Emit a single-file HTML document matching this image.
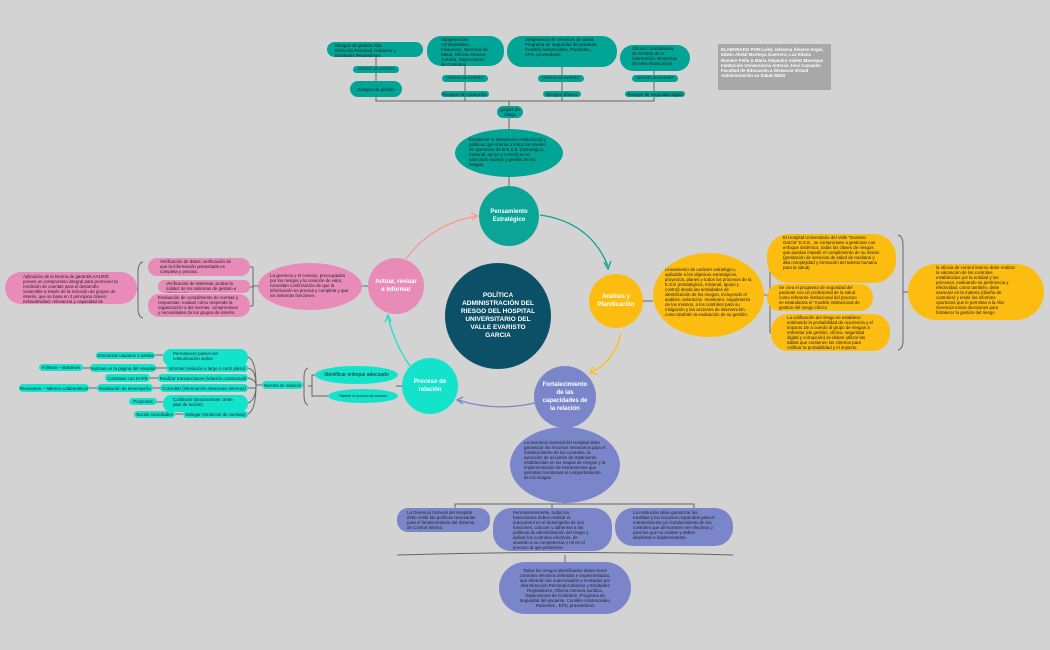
<!DOCTYPE html>
<html><head><meta charset="utf-8"><style>
html,body{margin:0;padding:0}
body{width:1050px;height:650px;background:#d3d3d3;position:relative;overflow:hidden;font-family:"Liberation Sans",sans-serif}
.b{position:absolute;box-sizing:border-box;font-size:4.4px;line-height:5px;color:#222;padding:2px 6px;overflow:hidden}
.t{background:#00a596}.y{background:#fdbd10}.p{background:#e98bb9}.c{background:#14e3cc}.v{background:#7a86c9}
.r{border-radius:8px}.e{border-radius:50%}
.ctr{display:flex;align-items:center;justify-content:center;text-align:center}
.circ{position:absolute;border-radius:50%;display:flex;align-items:center;justify-content:center;text-align:center;color:#fff;font-weight:bold;font-size:6px;line-height:8px}
svg{position:absolute;left:0;top:0}
</style></head><body>
<svg width="1050" height="650">
<g stroke="#666" stroke-width="1" fill="none">
<path d="M376 97 V101 H654 V97 M465 97V101 M562 97V101 M509 101V106 M509 118V129 M509 177V186"/>
<path d="M376 56V66 M376 73V81 M465 66V75 M465 82V91 M562 67V75 M562 82V91 M654 71V75 M654 82V91"/>
<path d="M643 301H653 M764 295H770 M770 259V333 M770 259H775 M770 297H767 M770 333H773"/>
<path d="M898 235 Q903 236 903 245 V340 Q903 349 898 350 M903 292H908"/>
<path d="M368 286H362 M258 286H253 M253 267V306 M253 267H250 M253 287H250 M253 306H250"/>
<path d="M143 262 Q138 263 138 272 V308 Q138 317 143 318 M138 289H137"/>
<path d="M402 386H396 M315 375H312 V396 H328 M312 386H308"/>
<path d="M308 368 Q304 369 304 378 V395 Q304 404 308 405 M304 385H303"/>
<path d="M262 385H256 M248 357 Q256 360 256 385 M248 368 Q256 370 256 385 M248 378 Q256 380 256 385 M248 388 H256 M248 403 Q256 400 256 385 M248 414 Q256 410 256 385"/>
<path d="M155 355H163 M156 368H166 M83 368H90 M150 378H158 M153 388H160 M89 388H97 M157 402H163 M175 414H183"/>
<path d="M565 428V418 M455 508V504H694V508 M552 504V508 M565 503V504"/>
<path d="M397 555 Q565 550 733 555 M565 555V562"/>
</g>
<path d="M540 215 Q590 222 608 266" stroke="#0aa596" stroke-width="1.3" fill="none"/>
<path d="M604 262 L608 269 L611 261" stroke="#0aa596" stroke-width="1.3" fill="none"/>
<path d="M621 333 Q615 360 592 372" stroke="#fdbd10" stroke-width="1.3" fill="none"/>
<path d="M593 367 L590 373 L597 374" stroke="#fdbd10" stroke-width="1.3" fill="none"/>
<path d="M535 403 Q495 412 458 400" stroke="#7a86c9" stroke-width="1.3" fill="none"/>
<path d="M463 397 L457 400 L463 404" stroke="#7a86c9" stroke-width="1.3" fill="none"/>
<path d="M410 366 Q395 345 388 317" stroke="#14e3cc" stroke-width="1.3" fill="none"/>
<path d="M385 322 L388 315 L391 322" stroke="#14e3cc" stroke-width="1.3" fill="none"/>
<path d="M406 259 Q430 225 476 216" stroke="#f59a8e" stroke-width="1.3" fill="none"/>
<path d="M471 213 L478 216 L472 220" stroke="#f59a8e" stroke-width="1.3" fill="none"/>
</svg>

<div class="b t r" style="left:327px;top:42px;width:96px;height:15px;padding:1px 8px">Riesgos de gestión:Alta Dirección,Personal, Gobierno y Entidades Reguladoras</div>
<div class="b t r ctr" style="left:353px;top:66px;width:46px;height:7px;padding:0;font-size:3.5px">GRUPOS DE INTERES</div>
<div class="b t r ctr" style="left:350px;top:81px;width:52px;height:16px;padding:0">Riesgos de gestión</div>
<div class="b t" style="left:427px;top:36px;width:77px;height:30px;border-radius:14px;padding:1px 14px">Subgerencias Administrativa, Financiera, Servicios de Salud, Oficina Asesora Jurídica, Supervisores de Contratos</div>
<div class="b t r ctr" style="left:442px;top:75px;width:46px;height:7px;padding:0;font-size:3.5px">GRUPOS DE INTERES</div>
<div class="b t r ctr" style="left:441px;top:91px;width:48px;height:6px;padding:0">Riesgos de corrupción</div>
<div class="b t" style="left:507px;top:36px;width:110px;height:31px;border-radius:15px;padding:1px 18px">Subgerencia de Servicios de Salud, Programa de Seguridad del paciente, Comités Asistenciales, Pacientes , EPS, proveedores</div>
<div class="b t r ctr" style="left:538px;top:75px;width:46px;height:7px;padding:0;font-size:3.5px">GRUPOS DE INTERES</div>
<div class="b t r ctr" style="left:543px;top:91px;width:38px;height:6px;padding:0">Riesgos clínicos</div>
<div class="b t" style="left:620px;top:45px;width:70px;height:26px;border-radius:13px;padding:1px 12px">Oficina Coordinadora de Gestión de la Información, Empresas de telecomunicación</div>
<div class="b t r ctr" style="left:632px;top:75px;width:46px;height:7px;padding:0;font-size:3.5px">GRUPOS DE INTERES</div>
<div class="b t r ctr" style="left:625px;top:91px;width:60px;height:6px;padding:0">Riesgos de seguridad digital</div>
<div class="b t r ctr" style="left:497px;top:106px;width:26px;height:12px;padding:0">grupos de riesgo</div>
<div class="b" style="left:718px;top:44px;width:113px;height:46px;background:#a8a8a8;color:#fff;font-weight:bold;padding:3px 3px;line-height:5.3px">ELABORADO POR:Leidy Johanna Álvarez Angel, Edwin Abdul Montoya Guerrero, Luz Eliana Romero Peña &amp; María Alejandra Valdez Manrique Institución Universitaria Antonio José Camacho Facultad de Educación a Distancia Virtual Administración en Salud-SB4S</div>
<div class="b t e" style="left:455px;top:129px;width:108px;height:48px;padding:8px 14px">Establecer el lineamiento institucional y políticas que orienta a todos los niveles de operación de la E.S.E. (estratégico, misional, apoyo y control) en el adecuado manejo y gestión de los riesgos.</div>

<div class="circ" style="left:445px;top:263px;width:106px;height:106px;background:#0b5066;font-size:6.5px;line-height:8px">POLÍTICA<br>ADMINISTRACIÓN DEL<br>RIESGO DEL HOSPITAL<br>UNIVERSITARIO DEL<br>VALLE EVARISTO<br>GARCIA</div>
<div class="circ" style="left:479px;top:186px;width:60px;height:60px;background:#0aa596">Pensamiento<br>Estratégico</div>
<div class="circ" style="left:589px;top:274px;width:54px;height:54px;background:#fdbd10">Análisis y<br>Planificación</div>
<div class="circ" style="left:534px;top:366px;width:62px;height:62px;background:#7a86c9">Fortalecimiento<br>de las<br>capacidades de<br>la relación</div>
<div class="circ" style="left:402px;top:358px;width:56px;height:56px;background:#14e3cc">Proceso de<br>relación</div>
<div class="circ" style="left:368px;top:258px;width:56px;height:56px;background:#e98bb9">Actuar, revisar<br>e informar</div>

<div class="b y e" style="left:653px;top:253px;width:111px;height:84px;padding:14px 12px">Lineamiento de carácter estratégico, aplicable a los objetivos estratégicos, proyectos, planes y todos los procesos de la E.S.E (estratégicos, misional, apoyo y control) desde las actividades de identificación de los riesgos, incluyendo el análisis, valoración, monitoreo, seguimiento de los mismos, a los controles para su mitigación y las acciones de intervención, como también la evaluación de su gestión.</div>
<div class="b y" style="left:767px;top:234px;width:129px;height:49px;border-radius:22px;padding:1px 16px">El Hospital Universitario del Valle "Evaristo García" E.S.E., se compromete a gestionar con enfoque sistémico, todas las clases de riesgos que puedan impedir el cumplimiento de su misión (prestación de servicios de salud de mediana y alta complejidad y formación del talento humano para la salud)</div>
<div class="b y" style="left:767px;top:284px;width:106px;height:27px;border-radius:13px;padding:1px 12px">Se crea el programa de seguridad del paciente con un profesional de la salud como referente institucional del proceso se estandariza el "modelo institucional de gestión del riesgo clínico</div>
<div class="b y" style="left:771px;top:314px;width:119px;height:37px;border-radius:17px;padding:1px 16px">La calificación del riesgo se establece estimando la probabilidad de ocurrencia y el impacto.De a cuerdo al grupo de riesgos a enfrentar (de gestión, clínico, seguridad digital y corrupción) se deben utilizar las tablas que contienen los criterios para calificar la probabilidad y el impacto.</div>
<div class="b y e" style="left:908px;top:264px;width:136px;height:56px;border-radius:28px;padding:1px 28px">la oficina de control interno debe realizar la valoración de los controles establecidos por la entidad y los procesos, evaluando su pertinencia y efectividad, como también, debe asesorar en la materia (diseño de controles) y emitir los informes oportunos que le permitan a la Alta Gerencia tomar decisiones para fortalecer la gestión del riesgo</div>

<div class="b p e" style="left:258px;top:263px;width:104px;height:47px;padding:10px 12px">La gerencia y el consejo, preocupados por los riesgos y la creación de valor, necesitan confirmación de que la información es precisa y completa y que los sistemas funcionen.</div>
<div class="b p" style="left:148px;top:258px;width:102px;height:18px;border-radius:9px;padding:1px 12px">Verificación de datos: verificación de que la información presentada es completa y precisa.</div>
<div class="b p" style="left:158px;top:280px;width:92px;height:13px;border-radius:6px;padding:1px 8px">Verificación de sistemas: probar la solidez de los sistemas de gestión e información.</div>
<div class="b p" style="left:148px;top:294px;width:102px;height:23px;border-radius:11px;padding:1px 10px">Evaluación de cumplimiento de normas y respuestas: evaluar cómo responde la organización a las normas, compromisos y necesidades de los grupos de interés.</div>
<div class="b p" style="left:5px;top:272px;width:132px;height:32px;border-radius:16px;padding:2px 18px">Aplicación de la Norma de garantía AA1000: provee un compromiso integral para promover la rendición de cuentas para el desarrollo sostenible a través de la inclusión de grupos de interés, que se basa en 3 principios claves: exhaustividad, relevancia y capacidad de respuesta.</div>

<div class="b c e ctr" style="left:315px;top:366px;width:83px;height:18px;font-size:5px">Identificar enfoque adecuado</div>
<div class="b c e ctr" style="left:328px;top:389px;width:70px;height:14px;font-size:3.5px;padding:0">Diseñar el proceso de relación</div>
<div class="b c r ctr" style="left:262px;top:381px;width:41px;height:8px;padding:0">Niveles de relación</div>
<div class="b c r" style="left:163px;top:349px;width:85px;height:17px;padding:2px 10px">Permanecer pasivo-sin comunicación activa</div>
<div class="b c r ctr" style="left:96px;top:352px;width:59px;height:7px;padding:0">Denuncias usuarios o tutelas</div>
<div class="b c r ctr" style="left:166px;top:364px;width:82px;height:8px;padding:0">Informar (relación a largo o corto plazo)</div>
<div class="b c r ctr" style="left:90px;top:364px;width:66px;height:8px;padding:0">Noticias en la página del Hospital</div>
<div class="b c r ctr" style="left:39px;top:364px;width:44px;height:7px;padding:0">Folletos – Boletines</div>
<div class="b c r ctr" style="left:158px;top:374px;width:90px;height:8px;padding:0">Realizar transacciones (relación contractual)</div>
<div class="b c r ctr" style="left:105px;top:374px;width:45px;height:8px;padding:0">Contratos con EAPB</div>
<div class="b c r ctr" style="left:160px;top:384px;width:88px;height:8px;padding:0">Consultar (información relaciones internas)</div>
<div class="b c r ctr" style="left:97px;top:384px;width:56px;height:8px;padding:0">Evaluación de desempeño</div>
<div class="b c r ctr" style="left:19px;top:384px;width:70px;height:8px;padding:0">Reuniones – Talleres colaborativos</div>
<div class="b c r" style="left:163px;top:395px;width:85px;height:17px;padding:2px 10px">Colaborar (asociaciones crean plan de acción)</div>
<div class="b c r ctr" style="left:129px;top:398px;width:28px;height:7px;padding:0">Proyectos</div>
<div class="b c r ctr" style="left:183px;top:411px;width:65px;height:7px;padding:0">Delegar (rendición de cuentas)</div>
<div class="b c r ctr" style="left:134px;top:411px;width:41px;height:7px;padding:0">Socios sociedades</div>

<div class="b v e" style="left:510px;top:427px;width:110px;height:76px;padding:13px 14px">La Gerencia General del Hospital debe garantizar los recursos necesarios para el fortalecimiento de los controles, la ejecución de acciones de tratamiento establecidas en los mapas de riesgos y la implementación de herramientas que permitan monitorear el comportamiento de los riesgos</div>
<div class="b v" style="left:397px;top:508px;width:93px;height:24px;border-radius:11px;padding:2px 10px">La Gerencia General del Hospital debe emitir las políticas necesarias para el fortalecimiento del Sistema de Control Interno.</div>
<div class="b v" style="left:493px;top:508px;width:119px;height:43px;border-radius:18px;padding:2px 20px">Permanentemente, todos los funcionarios deben realizar el autocontrol en el desempeño de sus funciones, conocer y adherirse a las políticas de administración del riesgo y aplicar los controles efectivos, de acuerdo a su competencia y rol en el proceso al que pertenece.</div>
<div class="b v" style="left:615px;top:508px;width:118px;height:38px;border-radius:18px;padding:2px 18px">La Institución debe garantizar las medidas y los recursos requeridos para el mantenimiento y/o fortalecimiento de los controles que demuestren ser efectivos y para los que no existen y deben diseñarse e implementarse.</div>
<div class="b v ctr" style="left:499px;top:562px;width:132px;height:52px;border-radius:26px;padding:2px 20px">Todos los riesgos identificados deben tener controles efectivos definidos e implementados, que deberán ser supervisados y revisados por Alta Dirección,Personal,Gobierno y Entidades Reguladores, Oficina Asesora Jurídica, Supervisores de Contratos ,Programa de Seguridad del paciente, Comités Asistenciales, Pacientes , EPS, proveedores</div>
</body></html>
